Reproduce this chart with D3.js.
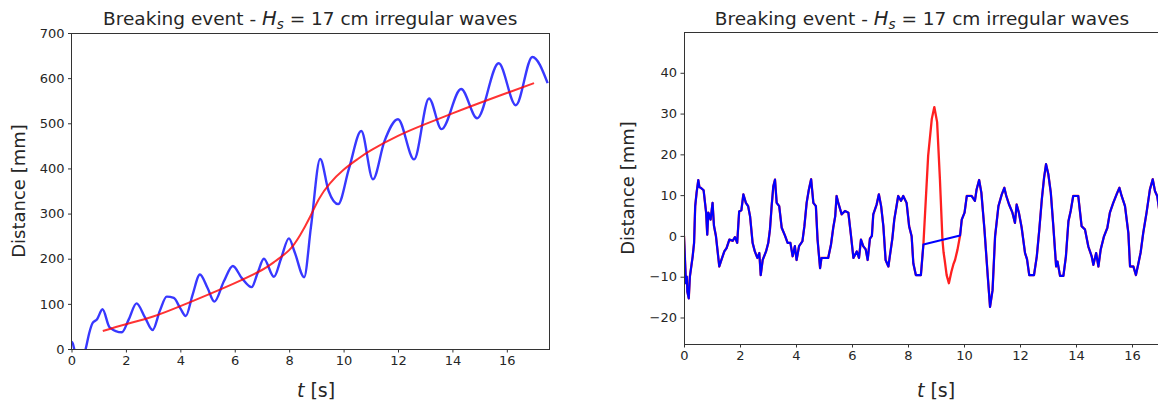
<!DOCTYPE html>
<html>
<head>
<meta charset="utf-8">
<script src="https://cdn.jsdelivr.net/npm/d3@7"></script>
<style>
  body { margin: 0; background: #fff; }
  text { font-family: "DejaVu Sans", sans-serif; fill: #262626; }
</style>
</head>
<body>
<svg id="chart" width="1158" height="404"></svg>
<script>
// left panel: wave front position and fitted trend
const leftWaveT = [0, 0.05, 0.1, 0.3, 0.52, 0.65, 0.77, 0.94, 1.14, 1.4, 1.85, 2.1, 2.39, 2.7, 2.98, 3.25, 3.5, 3.76, 4.0, 4.2,
    4.45, 4.72, 5.0, 5.25, 5.6, 5.93, 6.26, 6.62, 6.85, 7.07, 7.44, 7.7, 7.99, 8.2, 8.55, 8.8, 9.14, 9.45, 9.8, 10.2,
    10.65, 11.08, 11.5, 12.0, 12.59, 13.14, 13.6, 14.32, 14.91, 15.7, 16.33, 16.94, 17.5];
const leftWaveD = [16, 12, 0, -25, 0, 35, 57, 66, 88, 48, 37, 65, 101, 70, 42, 85, 116, 113, 90, 73,
    120, 165, 135, 105, 150, 184, 157, 137, 170, 200, 160, 200, 245, 215, 159, 270, 421, 350, 321, 400,
    483, 376, 460, 509, 420, 555, 487, 576, 511, 633, 540, 647, 589];
const leftFitT = [1.15, 2, 3, 4, 5, 6, 7, 7.5, 8, 8.4, 8.77, 9.1, 9.5, 10, 10.5, 11, 12, 13, 14, 15, 16, 17];
const leftFitD = [40, 55, 72, 95, 120, 146, 175, 195, 219, 252, 293, 333, 367, 397, 420, 440, 472, 498, 522, 545, 567, 589];

// right panel: detrended signal, breaking part removed and bridged
const rightT = [0, 0.07, 0.1, 0.12, 0.17, 0.21, 0.31, 0.36, 0.4, 0.45, 0.51, 0.55, 0.6, 0.7, 0.79, 0.83, 0.87, 0.95, 1.02, 1.07,
    1.14, 1.26, 1.33, 1.44, 1.52, 1.62, 1.74, 1.82, 1.9, 1.97, 2.05, 2.12, 2.21, 2.29, 2.36, 2.45, 2.53, 2.62, 2.69, 2.74,
    2.81, 2.93, 3.01, 3.07, 3.13, 3.19, 3.25, 3.31, 3.4, 3.49, 3.61, 3.7, 3.8, 3.88, 3.96, 4.02, 4.11, 4.23, 4.3, 4.38,
    4.46, 4.54, 4.62, 4.71, 4.77, 4.86, 4.91, 5.15, 5.25, 5.33, 5.4, 5.45, 5.51, 5.63, 5.75, 5.87, 5.96, 6.05, 6.17, 6.25,
    6.32, 6.4, 6.49, 6.56, 6.64, 6.71, 6.76, 6.88, 6.96, 7.04, 7.12, 7.2, 7.3, 7.35, 7.44, 7.51, 7.6, 7.65, 7.75, 7.83,
    7.95, 8.04, 8.13, 8.19, 8.28, 8.46, 8.55,
    9.86, 9.92, 10.02, 10.1, 10.27, 10.39, 10.45, 10.54, 10.62, 10.73, 10.85, 10.93, 11.02, 11.11, 11.23, 11.35, 11.44, 11.51, 11.61,
    11.73, 11.82, 11.88, 11.96, 12.06, 12.18, 12.25, 12.33, 12.5, 12.6, 12.69, 12.78, 12.86, 12.93, 13.01, 13.1, 13.19, 13.29, 13.34,
    13.43, 13.55, 13.64, 13.73, 13.81, 13.9, 14.08, 14.2, 14.32, 14.44, 14.56, 14.62, 14.72, 14.8, 14.88, 15.0, 15.12, 15.21,
    15.33, 15.45, 15.55, 15.63, 15.75, 15.87, 15.93, 16.05, 16.14, 16.23, 16.31, 16.4, 16.52, 16.64, 16.74, 16.82, 16.9, 17.0];
const rightD = [0, -11.6, -10, -13.7, -15.3, -10, -5, -1.7, 7.3, 10.6, 13.7, 12, 11.8, 11.2, 5.7, 0.3, 5.7, 4, 8.1, 2.5,
    0, -7.5, -6, -3.8, -3, -0.9, -1.2, -0.3, -1.7, 6, 6.3, 10.2, 8.1, 7.3, 4.8, -1.7, -3.8, -5.4, -4.2, -9.6,
    -5.9, -3.8, -1.7, 1.6, 7.3, 12.2, 13.8, 8.1, 7.3, 2, 0, -1.7, -1.7, -5, -2.5, -5.9, -2.5, -1.3, 2.4, 8.1,
    11.4, 13.9, 8.1, 7.3, -0.9, -7.9, -5.4, -5.4, -2.1, 2, 4.8, 9.8, 8.1, 5.3, 6.1, 5.7, 0.3, -5.4, -3.8, -5.4,
    -0.9, -2.5, -3.3, -5.9, -0.7, 0, 5.3, 7.7, 10.2, 7.3, 2.4, -5.9, -7.5, -5, -0.7, 4, 7.7, 9.8, 8.6, 9.8,
    8.1, 2.4, -0.1, -6.7, -9.6, -9.6, -2.1,
    0.1, 4, 5.7, 9.8, 9.8, 8.6, 11.4, 13.7, 10.6, 1.6, -10, -17.4, -13.3, -0.1, 7.3, 10.2, 11.8, 9.8, 7.7,
    5.7, 3.2, 7.7, 5.7, 2, -4.2, -5.7, -9.6, -9.6, -5, 1.6, 9, 14.3, 17.6, 15.2, 10.6, 2.4, -7.5, -6.3,
    -9.8, -9.8, -5, 3.6, 6.1, 9.8, 9.8, 2.4, 1.6, -2.6, -5, -7.1, -4.2, -7.5, -3.4, -0.1, 2, 5.7,
    8.1, 10.2, 11.8, 9.8, 7.3, 0.7, -7.5, -7.5, -9.6, -6.7, -4, 0.7, 5.7, 11.4, 13.9, 11, 9.8, 5];
const breakT = [8.55, 8.72, 8.85, 8.94, 9.04, 9.14, 9.23, 9.27, 9.31, 9.38, 9.46, 9.55, 9.62, 9.68, 9.77, 9.86];
const breakD = [-2.1, 19.7, 28.7, 31.6, 27.9, 13.9, -0.9, -4, -5.9, -9.6, -11.6, -8.8, -7, -5.9, -3.3, 0.1];

const xTicks = [0, 2, 4, 6, 8, 10, 12, 14, 16];
const leftYTicks = [0, 100, 200, 300, 400, 500, 600, 700];
const rightYTicks = [-20, -10, 0, 10, 20, 30, 40];

const svg = d3.select('#chart');
const zip = (ts, ds) => ts.map((t, i) => [t, ds[i]]);

function panel(cfg) {
    const x = d3.scaleLinear().domain(cfg.xDomain).range([cfg.left, cfg.right]);
    const y = d3.scaleLinear().domain(cfg.yDomain).range([cfg.bottom, cfg.top]);
    const g = svg.append('g');

    g.append('clipPath').attr('id', cfg.id)
        .append('rect')
        .attr('x', cfg.left).attr('y', cfg.top)
        .attr('width', cfg.right - cfg.left).attr('height', cfg.bottom - cfg.top);

    const plot = g.append('g').attr('clip-path', `url(#${cfg.id})`);
    cfg.lines.forEach(l => {
        plot.append('path')
            .datum(l.data)
            .attr('fill', 'none')
            .attr('stroke', l.color)
            .attr('stroke-opacity', l.opacity || 1)
            .attr('stroke-width', l.width)
            .attr('stroke-linejoin', 'round')
            .attr('d', d3.line().x(d => x(d[0])).y(d => y(d[1])).curve(l.curve || d3.curveLinear));
    });

    const xAxis = g.append('g')
        .attr('transform', `translate(0,${cfg.bottom})`)
        .call(d3.axisBottom(x).tickValues(xTicks).tickSize(3.5).tickPadding(3.5).tickFormat(d3.format('d')));
    const yAxis = g.append('g')
        .attr('transform', `translate(${cfg.left},0)`)
        .call(d3.axisLeft(y).tickValues(cfg.yTicks).tickSize(3.5).tickPadding(3.5)
            .tickFormat(d => d < 0 ? '\u2212' + Math.abs(d) : d));
    [xAxis, yAxis].forEach(a => {
        a.select('.domain').remove();
        a.selectAll('line').attr('stroke', '#333').attr('stroke-width', 1);
        a.selectAll('text').attr('font-size', 13).attr('fill', '#333')
            .attr('font-family', '"DejaVu Sans", sans-serif');
    });

    g.append('rect')
        .attr('x', cfg.left).attr('y', cfg.top)
        .attr('width', cfg.right - cfg.left).attr('height', cfg.bottom - cfg.top)
        .attr('fill', 'none').attr('stroke', '#333').attr('stroke-width', 1)
        .attr('shape-rendering', 'crispEdges');

    const cx = (cfg.left + cfg.right) / 2;
    const title = g.append('text')
        .attr('x', cx).attr('y', 25)
        .attr('text-anchor', 'middle').attr('font-size', 18.5);
    title.append('tspan').text('Breaking event - ');
    title.append('tspan').attr('font-style', 'italic').attr('font-size', 19.5).text('H');
    title.append('tspan').attr('font-style', 'italic').attr('font-size', 13.5).attr('dy', 3.5).text('s');
    title.append('tspan').attr('dy', -3.5).text(' = 17 cm irregular waves');

    g.append('text')
        .attr('transform', `translate(${cfg.yLabelX},${(cfg.top + cfg.bottom) / 2}) rotate(-90)`)
        .attr('text-anchor', 'middle').attr('dy', '0.35em')
        .attr('font-size', 18).text('Distance [mm]');

    const xl = g.append('text')
        .attr('x', cfg.xLabelX).attr('y', 397)
        .attr('text-anchor', 'middle').attr('font-size', 19);
    xl.append('tspan').attr('font-style', 'italic').text('t');
    xl.append('tspan').text(' [s]');
}

panel({
    id: 'clipL', left: 71.5, right: 549, top: 33, bottom: 349,
    xDomain: [0, 17.55], yDomain: [0, 700], yTicks: leftYTicks, yLabelX: 19, xLabelX: 316,
    lines: [
        { data: zip(leftWaveT, leftWaveD), color: 'blue', opacity: 0.78, width: 2.4, curve: d3.curveMonotoneX },
        { data: zip(leftFitT, leftFitD), color: 'red', opacity: 0.8, width: 2, curve: d3.curveNatural }
    ]
});

panel({
    id: 'clipR', left: 684, right: 1160, top: 32, bottom: 344,
    xDomain: [0, 17], yDomain: [-26.5, 50], yTicks: rightYTicks, yLabelX: 628, xLabelX: 936,
    lines: [
        { data: zip(rightT.slice(0, 107), rightD.slice(0, 107)).concat(zip(breakT, breakD)).concat(zip(rightT.slice(107), rightD.slice(107))),
          color: '#ff2020', width: 2.3 },
        { data: zip(rightT, rightD), color: 'blue', width: 2.1 }
    ]
});
</script>
</body>
</html>
